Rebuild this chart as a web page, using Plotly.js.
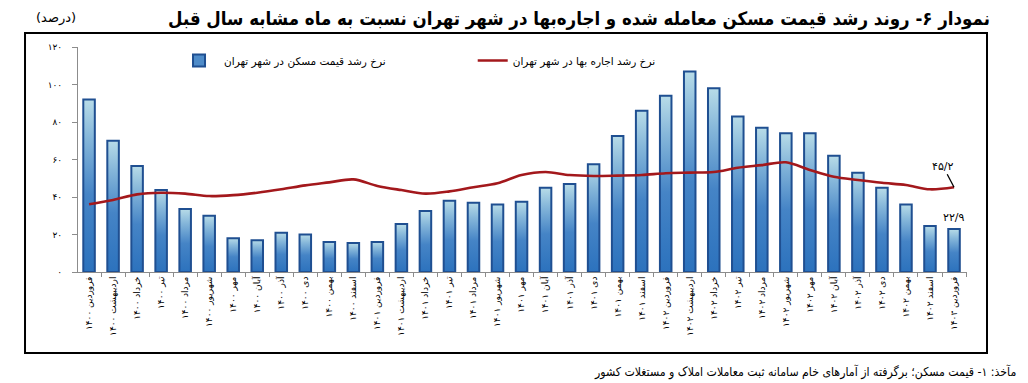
<!DOCTYPE html>
<html>
<head>
<meta charset="utf-8">
<script src="https://cdn.plot.ly/plotly-3.0.1.min.js"></script>
<style>
html,body{margin:0;padding:0;background:#fff;}
#chart{width:1028px;height:383px;}
</style>
</head>
<body>
<div id="chart"></div>
<script>
// Categories (month + year, Persian calendar)
const categories = [
  'فروردین ۱۴۰۰','اردیبهشت ۱۴۰۰','خرداد ۱۴۰۰','تیر ۱۴۰۰','مرداد ۱۴۰۰','شهریور ۱۴۰۰',
  'مهر ۱۴۰۰','آبان ۱۴۰۰','آذر ۱۴۰۰','دی ۱۴۰۰','بهمن ۱۴۰۰','اسفند ۱۴۰۰',
  'فروردین ۱۴۰۱','اردیبهشت ۱۴۰۱','خرداد ۱۴۰۱','تیر ۱۴۰۱','مرداد ۱۴۰۱','شهریور ۱۴۰۱',
  'مهر ۱۴۰۱','آبان ۱۴۰۱','آذر ۱۴۰۱','دی ۱۴۰۱','بهمن ۱۴۰۱','اسفند ۱۴۰۱',
  'فروردین ۱۴۰۲','اردیبهشت ۱۴۰۲','خرداد ۱۴۰۲','تیر ۱۴۰۲','مرداد ۱۴۰۲','شهریور ۱۴۰۲',
  'مهر ۱۴۰۲','آبان ۱۴۰۲','آذر ۱۴۰۲','دی ۱۴۰۲','بهمن ۱۴۰۲','اسفند ۱۴۰۲',
  'فروردین ۱۴۰۳'
];

// Growth rate of housing price in Tehran (percent, y/y) - bars
const housePriceGrowth = [
  92, 70, 56.5, 43.7, 33.6, 30,
  18, 17, 21, 20, 16, 15.5,
  16, 25.6, 32.5, 38, 37, 36,
  37.5, 45, 47, 57.5, 72.5, 86,
  94, 107, 98, 83, 77, 74,
  74, 62, 53, 45, 36, 24.5,
  22.9
];

// Growth rate of rents in Tehran (percent, y/y) - line
const rentGrowth = [
  36.1, 38.4, 41.4, 42.3, 41.8, 40.5,
  41, 42.3, 44.1, 46.2, 47.8, 49.4,
  45.9, 43.7, 41.8, 43, 45.2, 47.3,
  51.7, 53.3, 51.7, 51.2, 51.4, 51.7,
  52.7, 53, 53.3, 55.6, 57, 58.5,
  54.4, 50.8, 49.1, 47.6, 46.4, 44.1,
  45.2
];

const yTickVals = [0, 20, 40, 60, 80, 100, 120];
const yTickText = ['۰', '۲۰', '۴۰', '۶۰', '۸۰', '۱۰۰', '۱۲۰'];

const seriesNames = ['نرخ رشد قیمت مسکن در شهر تهران', 'نرخ رشد اجاره بها در شهر تهران'];
const titleText = 'نمودار ۶- روند رشد قیمت مسکن معامله شده و اجاره‌بها در شهر تهران نسبت به ماه مشابه سال قبل';
const unitText = '(درصد)';
const sourceText = 'مآخذ: ۱- قیمت مسکن؛ برگرفته از آمارهای خام سامانه ثبت معاملات املاک و مستغلات کشور';
const lastRentLabel = '۴۵/۲';
const lastPriceLabel = '۲۲/۹';

const FONT = 'DejaVu Sans, Noto Sans, sans-serif';
const FONT_C = 'DejaVu Sans Condensed, DejaVu Sans, sans-serif';

const traces = [
  {
    type: 'bar', x: categories, y: housePriceGrowth, name: seriesNames[0],
    width: 0.48,
    marker: {color: '#4F8CC9', line: {color: '#1F4F91', width: 2}},
    legend: 'legend', hoverinfo: 'skip'
  },
  {
    type: 'scatter', mode: 'lines', x: categories, y: rentGrowth, name: seriesNames[1],
    line: {color: '#A3181C', width: 2.6, shape: 'spline', smoothing: 0.9},
    legend: 'legend2', hoverinfo: 'skip'
  }
];

const layout = {
  width: 1028, height: 383,
  margin: {l: 78, r: 61, t: 47, b: 111},
  paper_bgcolor: '#ffffff', plot_bgcolor: '#ffffff',
  font: {family: FONT, color: '#000'},
  showlegend: true,
  title: {
    text: '<b>' + titleText + '</b>',
    font: {family: FONT_C, size: 18.5, color: '#000'},
    xref: 'container', yref: 'container', x: 0.963, xanchor: 'right', y: 0.952, yanchor: 'middle'
  },
  xaxis: {
    type: 'category', range: [-0.46, 36.54],
    showline: true, linecolor: '#8c8c8c', linewidth: 1,
    ticks: 'outside', tickson: 'boundaries', ticklen: 4, tickcolor: '#8c8c8c',
    tickangle: -90, tickfont: {family: FONT, size: 9, color: '#000'},
    showgrid: false, zeroline: false, fixedrange: true
  },
  yaxis: {
    range: [0, 120], tickvals: yTickVals, ticktext: yTickText,
    showline: true, linecolor: '#8c8c8c', linewidth: 1,
    ticks: 'outside', ticklen: 5, tickcolor: '#8c8c8c', ticklabelstandoff: 8,
    tickfont: {family: FONT, size: 9, color: '#000'},
    showgrid: false, zeroline: false, fixedrange: true
  },
  legend: {
    orientation: 'h', x: 0.108, xanchor: 'left', y: 0.94, yanchor: 'middle', itemwidth: 40,
    font: {family: FONT, size: 10.5, color: '#000'}, bgcolor: 'rgba(0,0,0,0)'
  },
  legend2: {
    orientation: 'h', x: 0.444, xanchor: 'left', y: 0.94, yanchor: 'middle',
    font: {family: FONT, size: 10.5, color: '#000'}, bgcolor: 'rgba(0,0,0,0)'
  },
  shapes: [
    {type: 'rect', xref: 'paper', yref: 'paper', x0: -0.0596, x1: 1.0225, y0: -0.36, y1: 1.062,
     line: {color: '#000', width: 2}, fillcolor: 'rgba(0,0,0,0)', layer: 'above'}
  ],
  annotations: [
    {text: unitText, xref: 'paper', yref: 'paper', x: -0.0247, y: 1.129, xanchor: 'center', yanchor: 'middle',
     showarrow: false, font: {family: FONT, size: 13, color: '#000'}},
    {text: sourceText, xref: 'paper', yref: 'paper', x: 1.0574, y: -0.444, xanchor: 'right', yanchor: 'middle',
     showarrow: false, font: {family: FONT_C, size: 12.2, color: '#000'}},
    {text: lastRentLabel, xref: 'x', yref: 'y', x: categories[categories.length - 1], y: rentGrowth[rentGrowth.length - 1],
     showarrow: true, arrowhead: 0, arrowwidth: 1.3, arrowcolor: '#000', ax: -11, ay: -21,
     font: {family: FONT, size: 11, color: '#000'}},
    {text: lastPriceLabel, xref: 'x', yref: 'y', x: categories[categories.length - 1], y: housePriceGrowth[housePriceGrowth.length - 1],
     showarrow: false, yanchor: 'bottom', yshift: 3,
     font: {family: FONT, size: 11, color: '#000'}}
  ]
};

function applyGradient(gd) {
  const svg = gd.querySelector('.main-svg');
  if (!svg) return;
  let defs = svg.querySelector('defs');
  if (!defs) { defs = document.createElementNS('http://www.w3.org/2000/svg', 'defs'); svg.insertBefore(defs, svg.firstChild); }
  if (!defs.querySelector('#barGrad')) {
    const g = document.createElementNS('http://www.w3.org/2000/svg', 'linearGradient');
    g.setAttribute('id', 'barGrad'); g.setAttribute('x1', '0'); g.setAttribute('y1', '0');
    g.setAttribute('x2', '0'); g.setAttribute('y2', '1');
    [['0%', '#B8DCE8'], ['22%', '#86B7DA'], ['55%', '#4584C6'], ['100%', '#2C72BD']].forEach(function (s) {
      const st = document.createElementNS('http://www.w3.org/2000/svg', 'stop');
      st.setAttribute('offset', s[0]); st.setAttribute('stop-color', s[1]);
      g.appendChild(st);
    });
    defs.appendChild(g);
  }
  gd.querySelectorAll('.barlayer .point path').forEach(function (p) { p.style.fill = 'url(#barGrad)'; });
  gd.querySelectorAll('.legendbar path, .legendpoints .legendbar').forEach(function (p) { p.style.fill = 'url(#barGrad)'; });
}

const gd = document.getElementById('chart');
Plotly.newPlot(gd, traces, layout, {displayModeBar: false, staticPlot: true}).then(function () {
  applyGradient(gd);
  gd.on('plotly_afterplot', function () { applyGradient(gd); });
});
</script>
</body>
</html>
